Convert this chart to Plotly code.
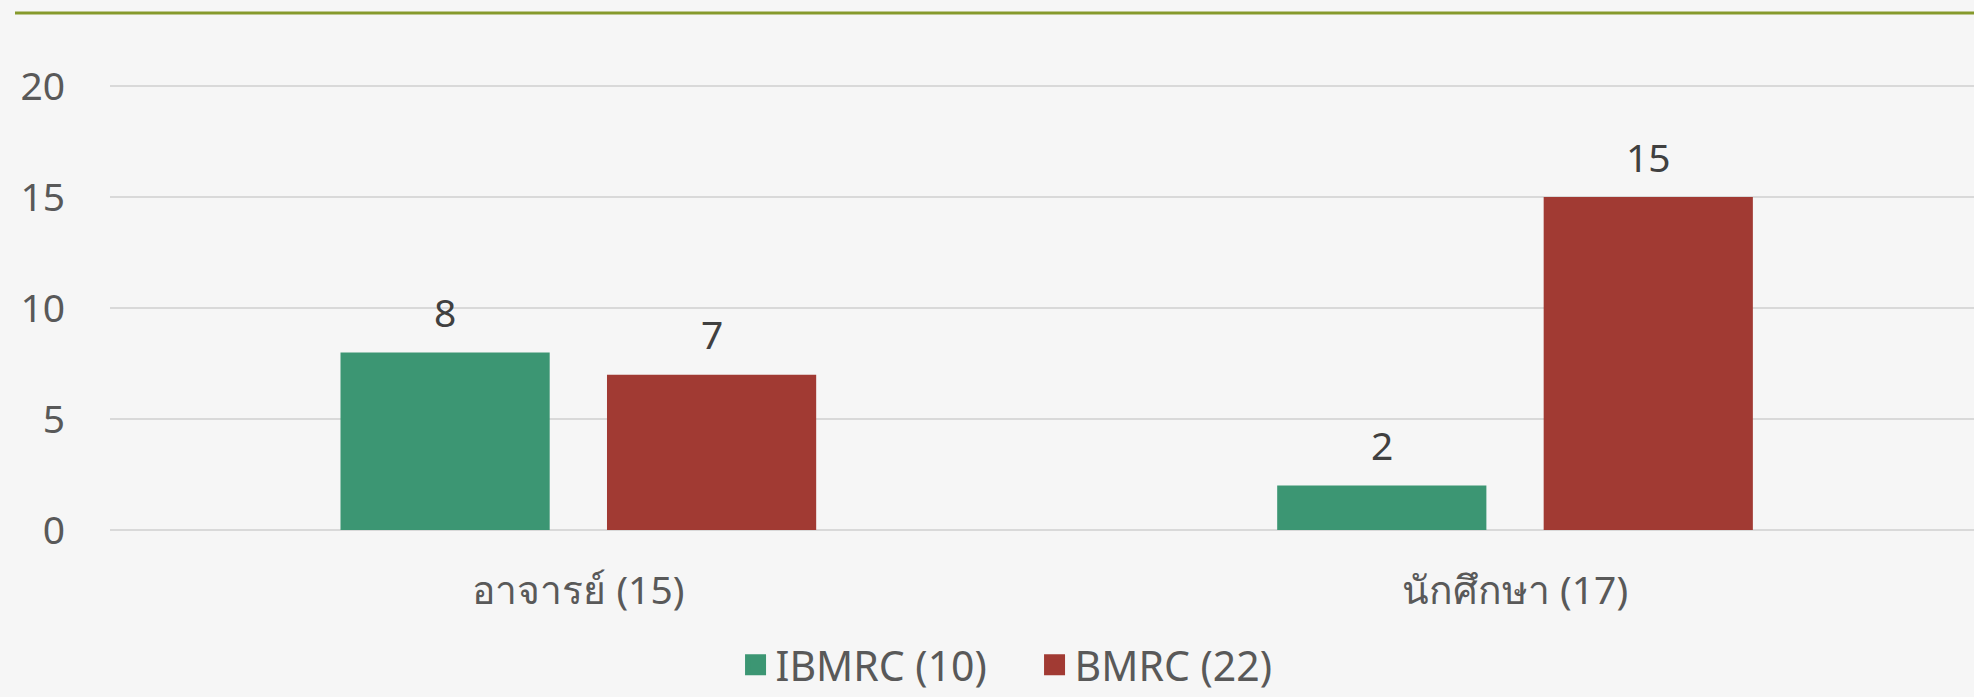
import plotly.graph_objects as go

# ---- data ----
categories = ["อาจารย์ (15)", "นักศึกษา (17)"]
series_names = ["IBMRC (10)", "BMRC (22)"]
ibmrc_values = [8, 2]
bmrc_values = [7, 15]
y_tick_values = [0, 5, 10, 15, 20]

# ---- style ----
series_colors = ["#3C9673", "#A13A33"]
BG = "#F6F6F6"
W, H = 1974, 697
ML, MR, MT, MB = 110, 0, 85, 167
X_RANGE = [-0.5, 1.49]
Y_RANGE = [0, 20.05]
BARGAP = 0.431
BARGROUPGAP = 0.215
FONT = "Noto Sans, sans-serif"
FS = 39
LEGEND_FS = 41
TICK_COLOR = "#595959"
LABEL_COLOR = "#404040"

plot_w = W - ML - MR
plot_h = H - MT - MB
px_per_cat = plot_w / (X_RANGE[1] - X_RANGE[0])
slot_px = (1 - BARGAP) / 2 * px_per_cat

fig = go.Figure()
all_values = [ibmrc_values, bmrc_values]
for name, vals, col in zip(series_names, all_values, series_colors):
    fig.add_trace(go.Bar(
        x=categories, y=vals, name=name, legendgroup=name, showlegend=False,
        marker=dict(color=col, line=dict(width=0)),
        hoverinfo="x+y+name",
    ))
# legend keys (square swatches, same series)
for name, col in zip(series_names, series_colors):
    fig.add_trace(go.Scatter(
        x=[None], y=[None], name=name, legendgroup=name, mode="markers",
        marker=dict(symbol="square", size=16, color=col,
                    line=dict(color=col, width=5)),
        showlegend=True, hoverinfo="skip",
    ))

annotations = []
n_series = len(all_values)
for j, vals in enumerate(all_values):
    shift = (j - (n_series - 1) / 2) * slot_px
    for cat, v in zip(categories, vals):
        annotations.append(dict(
            x=cat, y=v, xref="x", yref="y", text=str(v), showarrow=False,
            xshift=shift, yshift=41, yanchor="middle", xanchor="center",
            font=dict(family=FONT, size=FS, color=LABEL_COLOR),
        ))

fig.update_layout(
    width=W, height=H,
    margin=dict(l=ML, r=MR, t=MT, b=MB, pad=0),
    paper_bgcolor=BG,
    plot_bgcolor=BG,
    barmode="group",
    bargap=BARGAP,
    bargroupgap=BARGROUPGAP,
    font=dict(family=FONT, size=FS, color=TICK_COLOR),
    showlegend=True,
    legend=dict(
        orientation="h", xref="paper", x=0.496, xanchor="center",
        yref="container", y=(H - 665) / H, yanchor="middle",
        font=dict(family=FONT, size=LEGEND_FS, color=TICK_COLOR),
        bgcolor="rgba(0,0,0,0)", entrywidth=254, entrywidthmode="pixels",
    ),
    xaxis=dict(
        type="category", range=X_RANGE, showgrid=False, zeroline=False,
        showline=False, ticks="", ticklabelstandoff=34,
        tickfont=dict(family=FONT, size=FS, color=TICK_COLOR),
        fixedrange=True, automargin=False,
    ),
    yaxis=dict(
        range=Y_RANGE, tickvals=y_tick_values, showgrid=True,
        gridcolor="#D9D9D9", gridwidth=1.5, zeroline=True,
        zerolinecolor="#D9D9D9", zerolinewidth=1.5, showline=False,
        ticks="", ticklabelstandoff=44,
        tickfont=dict(family=FONT, size=FS, color=TICK_COLOR),
        fixedrange=True, automargin=False,
    ),
    annotations=annotations,
    shapes=[dict(
        type="line", xref="paper", yref="paper",
        x0=(15 - ML) / plot_w, x1=1.0,
        y0=(H - MB - 13) / plot_h, y1=(H - MB - 13) / plot_h,
        line=dict(color="#869A2C", width=3), layer="above",
    )],
)

fig.write_html(
    "out.html",
    config={"displayModeBar": False},
    post_script=(
        "document.body.style.margin='0';"
        "document.body.style.background='" + BG + "';"
        "document.body.style.overflow='hidden';"
    ),
)
